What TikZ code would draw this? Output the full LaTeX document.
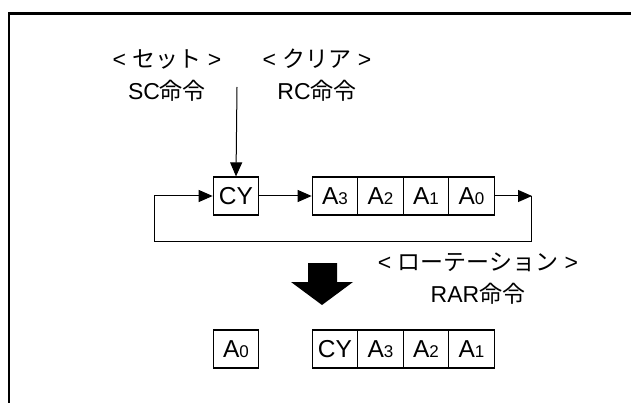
\documentclass[tikz,border=0pt]{standalone}
\usepackage{fontspec}
\setmainfont{Liberation Sans}
\newfontfamily\jpfont{Noto Sans CJK JP}
\usetikzlibrary{arrows.meta}
\newcommand{\regbit}[2]{#1{\fontsize{17}{17}\selectfont #2}}

\begin{document}
\begin{tikzpicture}[x=1pt, y=-1pt,
  cell/.style={draw, line width=1.2pt, minimum width=45.5pt, minimum height=38pt,
    inner sep=0pt, font=\fontsize{24.5}{24.5}\selectfont},
  cmdtext/.style={anchor=base, inner sep=0pt, font=\fontsize{23}{23}\selectfont},
  conn/.style={line width=1pt, -{Triangle[length=14pt, width=12pt]}}]
  \useasboundingbox (0,0) rectangle (631,403);
  % frame
  \draw[line width=2.5pt] (9,403) -- (9,13.5) -- (631,13.5);
  % instructions
  \node[cmdtext] (setname) at (167,68) {< {\jpfont セット} >};
  \node[cmdtext] (sc) at (167,100) {SC{\jpfont 命令}};
  \node[cmdtext] (clrname) at (317,68) {< {\jpfont クリア} >};
  \node[cmdtext] (rc) at (317,100) {RC{\jpfont 命令}};
  \node[cmdtext] (rotname) at (478,270) {< {\jpfont ローテーション} >};
  \node[cmdtext] (rar) at (478,302) {RAR{\jpfont 命令}};
  % before
  \node[cell] (cy) at (236,196) {CY};
  \node[cell] (a3) at (335,196) {\regbit{A}{3}};
  \node[cell] (a2) at (380.5,196) {\regbit{A}{2}};
  \node[cell] (a1) at (426,196) {\regbit{A}{1}};
  \node[cell] (a0) at (471.5,196) {\regbit{A}{0}};
  \coordinate (in) at (237,87);
  \coordinate (out) at (532,196);
  \coordinate (loopr) at (531,241);
  \coordinate (loopl) at (154,241);
  \draw[conn] (in) -- (cy.north);
  \draw[conn] (cy) -- (a3);
  \draw[conn] (a0) -- (out);
  \draw[conn] (531,196) -- (loopr) -- (loopl) |- (cy.west);
  % big arrow
  \fill (308,263) -- (337,263) -- (337,282) -- (353,282) -- (322,305)
    -- (291,282) -- (308,282) -- cycle;
  % after
  \node[cell] (b0) at (236,349) {\regbit{A}{0}};
  \node[cell] (bcy) at (335,349) {CY};
  \node[cell] (b3) at (380.5,349) {\regbit{A}{3}};
  \node[cell] (b2) at (426,349) {\regbit{A}{2}};
  \node[cell] (b1) at (471.5,349) {\regbit{A}{1}};
\end{tikzpicture}
\end{document}
